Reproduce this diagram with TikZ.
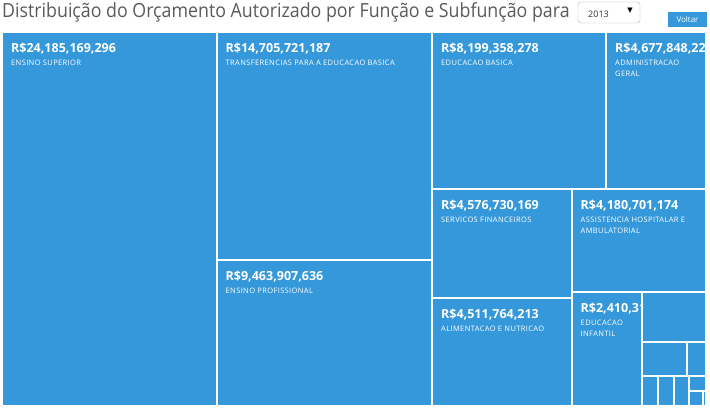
\documentclass[tikz,border=0pt]{standalone}
\usepackage{fontspec}
\setmainfont{Open Sans}
\newfontfamily\setafont{DejaVu Sans}
\newfontfamily\rotulofont[LetterSpace=5]{Open Sans}
\newfontfamily\titulofont[FakeStretch=0.912]{Open Sans}
\usetikzlibrary{positioning}

\definecolor{azul}{HTML}{3498DB}
\definecolor{cinza}{HTML}{5A5A5A}

% one cell of the treemap: name, corners, value, label
\newcommand{\tmcell}[7]{%
  \draw[celula] (#2,#3) rectangle (#4,#5);
  \begin{scope}
    \clip (#2+1,#3+1) rectangle (#4-1,#5-1);
    \node[valor] (#1) at (#2+9,#3+20.5) {#6};
    \node[rotulo] (#1-nome) at (#2+9,#3+28.1) {#7};
  \end{scope}}

\begin{document}
\begin{tikzpicture}[
  x=1pt,
  y=-1pt,
  celula/.style={
    fill=azul,
    draw=white,
    line width=2pt
  },
  valor/.style={
    anchor=base west,
    inner sep=0pt,
    text=white,
    font=\fontsize{12.5}{14}\selectfont\bfseries
  },
  rotulo/.style={
    anchor=north west,
    inner sep=0pt,
    align=left,
    text=white,
    font=\fontsize{7.5}{11}\selectfont\rotulofont
  },
  titulo/.style={
    anchor=base west,
    inner sep=0pt,
    text=cinza,
    font=\fontsize{19.5}{22}\selectfont\titulofont
  },
]
\useasboundingbox (0,0) rectangle (710,410);

\node[titulo] (titulo) at (2,17.5) {Distribuição do Orçamento Autorizado por Função e Subfunção para};
\draw[gray!60, rounded corners=3pt, fill=white] (578,2) rectangle (640,23);
\node[anchor=base west, inner sep=0pt, font=\fontsize{9}{10}\selectfont, text=black!80] (ano) at (588,17) {2013};
\node[inner sep=0pt, font=\fontsize{7}{8}\selectfont\setafont] (seta) at (630,11) {▼};
\node[fill=azul, minimum width=39pt, minimum height=15pt, inner sep=0pt,
  text=white, font=\fontsize{8}{9}\selectfont] (voltar) at (687.5,19.5) {Voltar};

\tmcell{esuperior}{2}{32}{216.5}{406}{R\$24,185,169,296}{ENSINO SUPERIOR}
\tmcell{transf}{216.5}{32}{432}{260}{R\$14,705,721,187}{TRANSFERENCIAS PARA A EDUCACAO BASICA}
\tmcell{eprof}{216.5}{260}{432}{406}{R\$9,463,907,636}{ENSINO PROFISSIONAL}
\tmcell{ebasica}{432}{32}{606}{188.5}{R\$8,199,358,278}{EDUCACAO BASICA}
\tmcell{admin}{606}{32}{706}{188.5}{R\$4,677,848,22}{ADMINISTRACAO\\GERAL}
\tmcell{servfin}{432}{188.5}{571.5}{298}{R\$4,576,730,169}{SERVICOS FINANCEIROS}
\tmcell{aliment}{432}{298}{571.5}{406}{R\$4,511,764,213}{ALIMENTACAO E NUTRICAO}
\tmcell{assist}{571.5}{188.5}{706}{292}{R\$4,180,701,174}{ASSISTENCIA HOSPITALAR E\\AMBULATORIAL}
\tmcell{einfantil}{571.5}{292}{642}{406}{R\$2,410,31}{EDUCACAO\\INFANTIL}

% small cells
\draw[celula] (642,292) rectangle (706,342);
\draw[celula] (642,342) rectangle (687,376);
\draw[celula] (687,342) rectangle (706,376);
\draw[celula] (642,376) rectangle (658,406);
\draw[celula] (658,376) rectangle (674,406);
\draw[celula] (674,376) rectangle (689,406);
\draw[celula] (689,376) rectangle (706,391);
\draw[celula] (689,391) rectangle (703,406);
\draw[celula] (703,391) rectangle (706,406);
\end{tikzpicture}
\end{document}
